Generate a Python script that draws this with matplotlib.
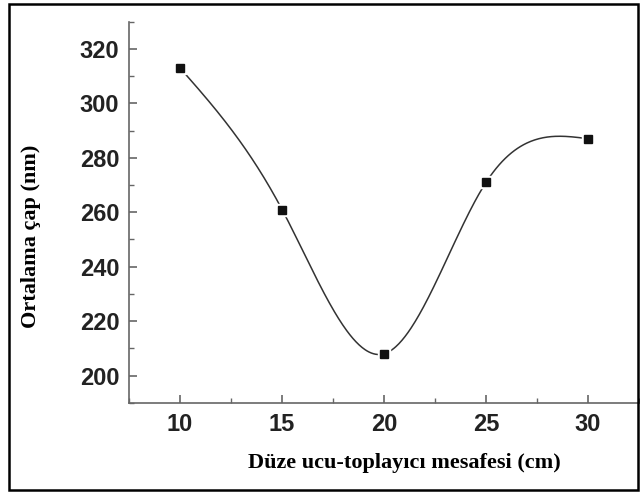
import numpy as np
import matplotlib
matplotlib.use('Agg')
import matplotlib.pyplot as plt
from matplotlib.patches import Rectangle
from matplotlib.ticker import MultipleLocator

# Data
distance = [10, 15, 20, 25, 30]          # cm
diameter = [313, 261, 208, 271, 287]     # nm

xlabel = 'Düze ucu-toplayıcı mesafesi (cm)'
ylabel = 'Ortalama çap (nm)'


def natural_spline(x, y, n=400):
    '''Natural cubic spline through (x, y), evaluated on a fine grid.'''
    x = np.asarray(x, float)
    y = np.asarray(y, float)
    m = len(x)
    h = np.diff(x)
    A = np.zeros((m, m))
    b = np.zeros(m)
    A[0, 0] = A[-1, -1] = 1.0
    for i in range(1, m - 1):
        A[i, i - 1] = h[i - 1]
        A[i, i] = 2 * (h[i - 1] + h[i])
        A[i, i + 1] = h[i]
        b[i] = 6 * ((y[i + 1] - y[i]) / h[i] - (y[i] - y[i - 1]) / h[i - 1])
    M = np.linalg.solve(A, b)
    xs = np.linspace(x[0], x[-1], n)
    k = np.clip(np.searchsorted(x, xs) - 1, 0, m - 2)
    t0 = x[k + 1] - xs
    t1 = xs - x[k]
    hk = h[k]
    ys = (M[k] * t0**3 + M[k + 1] * t1**3) / (6 * hk) \
        + (y[k] / hk - M[k] * hk / 6) * t0 \
        + (y[k + 1] / hk - M[k + 1] * hk / 6) * t1
    return xs, ys


fig = plt.figure(figsize=(6.4, 4.93), dpi=100)
ax = fig.add_axes([0.2016, 0.183, 0.797, 0.773])

xs, ys = natural_spline(distance, diameter)
ax.plot(xs, ys, '-', color='#333333', lw=1.1, zorder=2)
# white halo under markers leaves the small gap seen in the original
ax.plot(distance, diameter, 's', ms=8.5, color='white', mec='white', zorder=3)
ax.plot(distance, diameter, 's', ms=5.5, color='#111111', mec='#111111', zorder=4)

ax.set_xlim(7.5, 32.5)
ax.set_ylim(190, 330)
ax.xaxis.set_major_locator(MultipleLocator(5))
ax.xaxis.set_minor_locator(MultipleLocator(2.5))
ax.yaxis.set_major_locator(MultipleLocator(20))
ax.yaxis.set_minor_locator(MultipleLocator(10))

for side in ('top', 'right'):
    ax.spines[side].set_visible(False)
for side in ('left', 'bottom'):
    ax.spines[side].set_color('#666666')
    ax.spines[side].set_linewidth(1.2)

ax.tick_params(which='major', direction='in', length=6, width=1.2,
               color='#666666', pad=7)
ax.tick_params(which='minor', direction='in', length=3.5, width=1.0,
               color='#666666')
for lab in ax.get_xticklabels() + ax.get_yticklabels():
    lab.set_fontfamily('Liberation Sans')
    lab.set_fontweight('bold')
    lab.set_fontsize(17)
    lab.set_color('#222222')

ax.set_xlabel(xlabel, family='Liberation Serif', weight='bold', size=16,
              va='center', ha='center')
ax.set_ylabel(ylabel, family='Liberation Serif', weight='bold', size=16,
              va='center', ha='center')
ax.xaxis.set_label_coords(0.539, -0.158)
ax.yaxis.set_label_coords(-0.192, 0.4375)

# Outer frame around the whole figure
fig.patches.append(Rectangle((9 / 640, 3 / 493), 629 / 640, 486 / 493,
                             transform=fig.transFigure, fill=False,
                             edgecolor='black', lw=1.8, zorder=10))

fig.savefig('out.png', dpi=100)
